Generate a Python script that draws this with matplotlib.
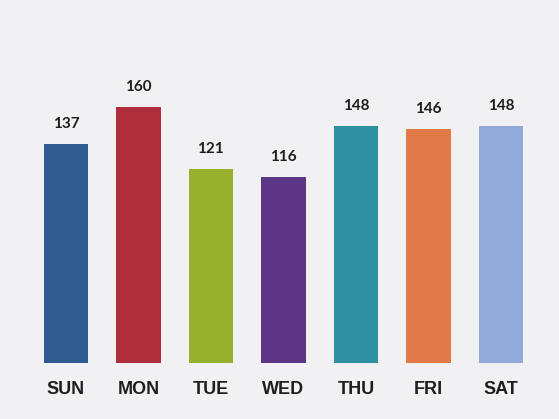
import matplotlib
matplotlib.use("Agg")
import matplotlib.pyplot as plt

# ---- data ----
days = ["SUN", "MON", "TUE", "WED", "THU", "FRI", "SAT"]
counts = [137, 160, 121, 116, 148, 146, 148]
bar_colors = ["#2f5b90", "#b02e3c", "#97b12c", "#5b3686", "#2f90a2", "#e27a48", "#91aad9"]

fig = plt.figure(figsize=(5.59, 4.19), dpi=100)
fig.patch.set_facecolor("#f1f1f3")
ax = fig.add_axes([0.053, 0.134, 0.908, 0.7255])
ax.set_facecolor("#f1f1f3")

x = range(len(days))
bars = ax.bar(x, counts, width=0.61, color=bar_colors)

for b, v in zip(bars, counts):
    ax.text(b.get_x() + b.get_width() / 2, v + 8, str(v),
            ha="center", va="bottom", fontsize=11, fontweight="bold",
            family="Lato", color="#1e1e1e")

ax.set_xlim(-0.5, len(days) - 0.5)
ax.set_ylim(0, 190)
ax.set_xticks(list(x))
ax.set_xticklabels(days, fontsize=13, fontweight="bold",
                   family="Liberation Sans", color="#1e1e1e")
ax.tick_params(axis="x", length=0, pad=13)
ax.set_yticks([])
for s in ax.spines.values():
    s.set_visible(False)

fig.savefig("out.png", dpi=100, facecolor=fig.get_facecolor())
